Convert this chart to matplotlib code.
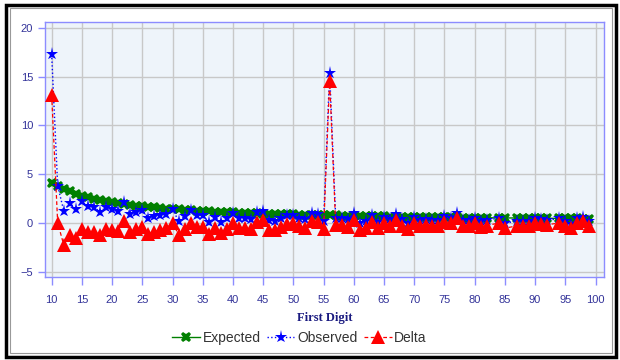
import numpy as np
import matplotlib.pyplot as plt
from matplotlib.patches import Rectangle

# first-two-digit values (83, 86 and 93 have no data)
digits = [10, 11, 12, 13, 14, 15, 16, 17, 18, 19,
          20, 21, 22, 23, 24, 25, 26, 27, 28, 29,
          30, 31, 32, 33, 34, 35, 36, 37, 38, 39,
          40, 41, 42, 43, 44, 45, 46, 47, 48, 49,
          50, 51, 52, 53, 54, 55, 56, 57, 58, 59,
          60, 61, 62, 63, 64, 65, 66, 67, 68, 69,
          70, 71, 72, 73, 74, 75, 76, 77, 78, 79,
          80, 81, 82, 84, 85, 87, 88, 89,
          90, 91, 92, 94, 95, 96, 97, 98, 99]

expected = [4.14, 3.78, 3.48, 3.22, 3.00, 2.80, 2.63, 2.48, 2.35, 2.23,
            2.12, 2.02, 1.93, 1.85, 1.77, 1.70, 1.64, 1.58, 1.52, 1.47,
            1.42, 1.38, 1.34, 1.30, 1.26, 1.22, 1.19, 1.16, 1.13, 1.10,
            1.07, 1.05, 1.02, 1.00, 0.98, 0.95, 0.93, 0.91, 0.90, 0.88,
            0.86, 0.84, 0.83, 0.81, 0.80, 0.78, 0.77, 0.76, 0.74, 0.73,
            0.72, 0.71, 0.70, 0.68, 0.67, 0.66, 0.65, 0.64, 0.63, 0.62,
            0.62, 0.61, 0.60, 0.59, 0.58, 0.58, 0.57, 0.56, 0.55, 0.55,
            0.54, 0.53, 0.53, 0.51, 0.51, 0.50, 0.49, 0.49,
            0.48, 0.47, 0.47, 0.46, 0.45, 0.45, 0.45, 0.44, 0.44]

observed = [17.3, 3.8, 1.25, 2.0, 1.4, 2.2, 1.7, 1.6, 1.15, 1.6,
            1.4, 1.2, 2.1, 0.95, 1.15, 1.3, 0.55, 0.7, 0.8, 0.9,
            1.4, 0.2, 0.7, 1.3, 0.85, 0.8, 0.05, 0.6, 0.1, 0.45,
            1.05, 0.5, 0.45, 0.35, 1.1, 1.25, 0.25, 0.2, 0.5, 0.8,
            0.85, 0.55, 0.35, 1.0, 0.9, 0.15, 15.4, 0.55, 0.55, 0.35,
            1.0, 0.0, 0.2, 0.8, 0.1, 0.65, 0.35, 0.95, 0.35, -0.05,
            0.6, 0.3, 0.4, 0.3, 0.3, 0.7, 0.55, 1.05, 0.25, 0.25,
            0.55, 0.15, 0.25, 0.5, -0.05, 0.2, 0.2, 0.2,
            0.5, 0.35, 0.25, 0.45, 0.15, -0.1, 0.45, 0.65, 0.15]

delta = [13.1, 0.0, -2.25, -1.2, -1.6, -0.6, -0.9, -0.9, -1.2, -0.6,
         -0.7, -0.8, 0.2, -0.9, -0.6, -0.4, -1.1, -0.9, -0.7, -0.55,
         0.0, -1.2, -0.65, 0.0, -0.4, -0.4, -1.15, -0.55, -1.05, -0.65,
         0.0, -0.55, -0.55, -0.65, 0.1, 0.3, -0.7, -0.7, -0.4, -0.1,
         0.0, -0.3, -0.5, 0.2, 0.1, -0.65, 14.6, -0.2, -0.2, -0.4,
         0.3, -0.7, -0.5, 0.1, -0.55, 0.0, -0.3, 0.3, -0.3, -0.65,
         0.0, -0.3, -0.2, -0.3, -0.3, 0.1, 0.0, 0.5, -0.3, -0.3,
         0.0, -0.4, -0.3, 0.0, -0.55, -0.3, -0.3, -0.3,
         0.0, -0.1, -0.2, 0.0, -0.3, -0.55, 0.0, 0.2, -0.3]

x_ticks = list(range(10, 101, 5))
y_ticks = [-5, 0, 5, 10, 15, 20]

tick_color = "#333399"
frame_color = "#8c8cff"

fig = plt.figure(figsize=(6.2, 3.6), dpi=100)
fig.patch.set_facecolor("white")

# image frames
fig.patches.append(Rectangle((6 / 620, 3 / 360), 610 / 620, 352 / 360, transform=fig.transFigure,
                             fill=False, edgecolor="black", linewidth=2.5))
fig.patches.append(Rectangle((10 / 620, 7 / 360), 602 / 620, 345 / 360, transform=fig.transFigure,
                             fill=False, edgecolor="#999999", linewidth=0.8))

ax = fig.add_axes([45 / 620, 1 - 277 / 360, 559 / 620, 255 / 360])
ax.set_facecolor("#eef4fa")

ax.plot(digits, expected, color="#008000", linestyle="-", linewidth=1.0,
        marker="X", markersize=7.5, markeredgewidth=0, label="Expected", zorder=3)
ax.plot(digits, observed, color="#0000ff", linestyle=":", linewidth=1.0,
        marker="*", markersize=9.5, markeredgewidth=0, label="Observed", zorder=4)
ax.plot(digits, delta, color="#ff0000", linestyle="--", linewidth=0.9, dashes=(3, 2),
        marker="^", markersize=9.5, markeredgewidth=0, label="Delta", zorder=5)

ax.set_xlim(8.9, 101.4)
ax.set_ylim(-5.55, 20.6)
ax.set_xticks(x_ticks)
ax.set_yticks(y_ticks)
ax.grid(True, color="#c8c8c8", linewidth=1.0)
ax.set_axisbelow(True)

for s in ax.spines.values():
    s.set_color(frame_color)
    s.set_linewidth(1.0)

ax.tick_params(axis="both", colors=frame_color, labelcolor=tick_color, labelsize=8,
               length=5, width=1.0)
ax.tick_params(axis="x", length=6, pad=7)
for lab in ax.get_xticklabels() + ax.get_yticklabels():
    lab.set_family("Liberation Sans")

ax.set_xlabel("First Digit", fontsize=9, fontweight="bold", family="Liberation Serif",
              color="#1a1a80", labelpad=5)

leg = ax.legend(loc="center", bbox_to_anchor=(0.455, -61 / 255), ncol=3, frameon=False,
                prop={"family": "Liberation Sans", "size": 10}, handlelength=2.0,
                handletextpad=0.2, columnspacing=0.45, borderpad=0)
for t in leg.get_texts():
    t.set_color("#333333")

fig.savefig("out.png", dpi=100)
